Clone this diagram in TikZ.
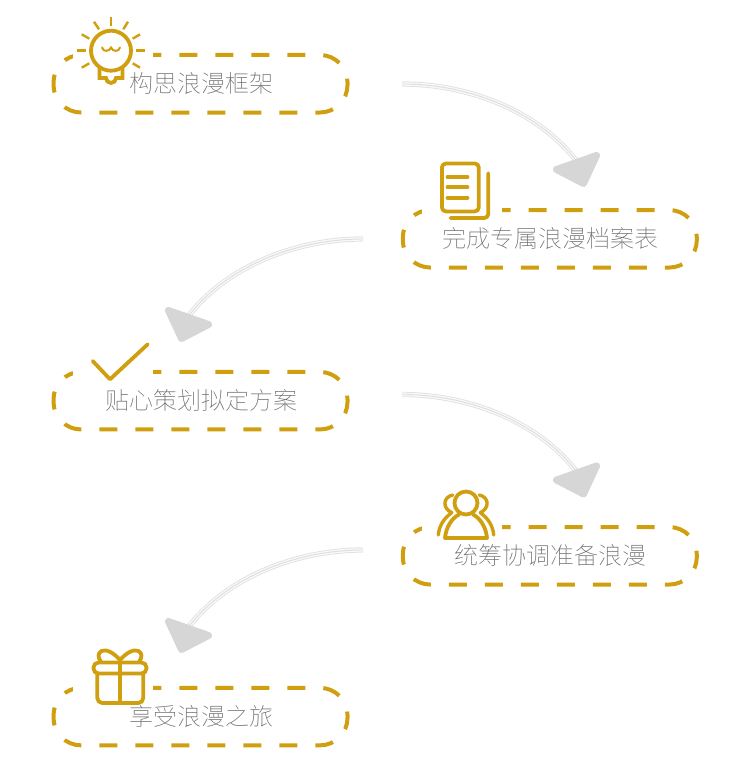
\documentclass[tikz,border=0pt]{standalone}
\usepackage{fontspec}
\newfontfamily\cjk{Noto Sans CJK SC Thin}
\definecolor{gold}{HTML}{D09F0F}
\definecolor{ribbon}{HTML}{DEDEDE}
\definecolor{ribbonin}{HTML}{FAFAFA}
\definecolor{headgrey}{HTML}{D6D6D6}
\definecolor{txt}{HTML}{666666}
\tikzset{
  boxarea/.style={inner sep=0pt,outer sep=0pt,minimum width=294pt,minimum height=57.5pt,text=txt,font=\cjk\fontsize{24}{24}\selectfont},
  dashframe/.style={draw=gold,line width=4pt,dash pattern=on 18pt off 18pt,dash phase=9.7pt},
  iconline/.style={draw=gold,line width=3.8pt,line cap=round,line join=round},
  ray/.style={draw=gold,line width=2.4pt},
  band/.style={draw=ribbon,line width=5.2pt,postaction={draw=ribbonin,line width=3.6pt},postaction={draw=ribbon,line width=1pt}},
  stub/.style={draw=ribbonin!60!ribbon,line width=5.2pt},
  head/.style={fill=headgrey,draw=headgrey,line width=7pt,line join=round},
  mask/.style={fill=white,draw=none}
}
\newcommand{\stepbox}[4]{%
  \node[boxarea] (#1) at (#2,#3) {};
  \draw[dashframe] ([xshift=27.5pt]#1.north west) -- ([xshift=-27.5pt]#1.north east)
    arc[start angle=90,end angle=0,radius=27.5pt]
    -- ([yshift=27.5pt]#1.south east)
    arc[start angle=0,end angle=-90,radius=27.5pt]
    -- ([xshift=27.5pt]#1.south west)
    arc[start angle=270,end angle=180,radius=27.5pt]
    -- ([yshift=-27.5pt]#1.north west)
    arc[start angle=180,end angle=90,radius=27.5pt] -- cycle;
  \fill[mask] ([xshift=19.5pt,yshift=10pt]#1.north west) rectangle ([xshift=99.2pt,yshift=-8pt]#1.north west);
  \node[boxarea,xshift=0.7pt] (#1t) at (#2,#3) {#4};
}
\begin{document}
\begin{tikzpicture}[x=1pt,y=-1pt]
\useasboundingbox (0,0) rectangle (750,760);

\stepbox{b1}{200.5}{83.75}{构思浪漫框架}
\stepbox{b2}{549.8}{238.8}{完成专属浪漫档案表}
\stepbox{b3}{200.5}{400.7}{贴心策划拟定方案}
\stepbox{b4}{549.8}{555.8}{统筹协调准备浪漫}
\stepbox{b5}{200.5}{716.6}{享受浪漫之旅}

% connectors
\coordinate (a1s) at (402,84);  \coordinate (a1e) at (578,163);
\draw[band] (a1s) .. controls (470,84) and (540,112) .. (a1e);
\draw[stub] (a1s) -- ++(4,0);
\fill[head] (556.5,169.5) -- (596.5,155.5) -- (583.5,183.5) -- cycle;

\coordinate (a2s) at (363,239); \coordinate (a2e) at (187,318);
\draw[band] (a2s) .. controls (295,239) and (225,267) .. (a2e);
\draw[stub] (a2s) -- ++(-4,0);
\fill[head] (208.5,324.5) -- (168.5,310.5) -- (181.5,338.5) -- cycle;

\coordinate (a3s) at (402,394.5); \coordinate (a3e) at (578,473.5);
\draw[band] (a3s) .. controls (470,394.5) and (540,422.5) .. (a3e);
\draw[stub] (a3s) -- ++(4,0);
\fill[head] (556.5,480) -- (596.5,466) -- (583.5,494) -- cycle;

\coordinate (a4s) at (363,550); \coordinate (a4e) at (187,629);
\draw[band] (a4s) .. controls (295,550) and (225,578) .. (a4e);
\draw[stub] (a4s) -- ++(-4,0);
\fill[head] (208.5,635.5) -- (168.5,621.5) -- (181.5,649.5) -- cycle;

% bulb
\draw[iconline] (111,50.7) circle[radius=20pt];
\draw[iconline,line cap=butt,line join=miter] (99.5,68) -- (99.5,78) -- (106,78)
  arc[start angle=180,end angle=360,radius=5pt] -- (122.5,78) -- (122.5,68);
\draw[ray] (111,17.3) -- (111,25.7);
\draw[ray] (77.3,50.7) -- (86,50.7);
\draw[ray] (136.3,50.7) -- (145,50.7);
\draw[ray] (94,21.7) -- (99,29.3);
\draw[ray] (128,21.7) -- (123.3,29.3);
\draw[ray] (81.7,34.3) -- (89.3,38.7);
\draw[ray] (140,34.3) -- (132.7,38.7);
\draw[ray] (81.7,67.7) -- (89.3,63.3);
\draw[ray] (140,67.7) -- (132.7,63.3);
\draw[draw=gold,line width=2pt,line cap=round] (102,47.5) .. controls (103,52) and (109.5,52) .. (111,47.5)
  .. controls (112.5,52) and (119,52) .. (120,47.5);

% document
\draw[iconline,rounded corners=4pt] (441.9,163.5) rectangle (478.8,211.4);
\draw[iconline] (447.5,177) -- (467.5,177);
\draw[iconline] (447.5,187.3) -- (467.5,187.3);
\draw[iconline] (447.5,197.7) -- (467.5,197.7);
\draw[iconline,rounded corners=4pt] (488.3,173.3) -- (488.3,218) -- (450.5,218);

% check
\draw[iconline] (92.7,361) -- (110,379.3) -- (147.7,344.3);

% people
\draw[iconline] (466,503) circle[radius=11.5pt];
\draw[iconline] (459,514.5) .. controls (452,518) and (446,527) .. (445,538) -- (487,538)
  .. controls (486,527) and (480,518) .. (473,514.5);
\draw[iconline,line width=3.4pt] (452.7,495) .. controls (443,497) and (442,508) .. (451.7,512.7)
  .. controls (444,518) and (439,526) .. (438.3,535);
\draw[iconline,line width=3.4pt] (479.3,495) .. controls (489,497) and (490,508) .. (480.3,512.7)
  .. controls (488,518) and (493,526) .. (493.7,535);

% gift
\draw[iconline,rounded corners=5pt] (93.5,662.5) rectangle (146.5,673.5);
\draw[iconline,rounded corners=5pt,line cap=butt] (97.3,673.5) -- (97.3,703) -- (143.3,703) -- (143.3,673.5);
\draw[iconline,line cap=butt] (120,661) -- (120,703);
\draw[iconline] (120,660) .. controls (113,652) and (106,649) .. (101.5,651) .. controls (97.5,653) and (98,658) .. (100.7,661);
\draw[iconline] (120,660) .. controls (127,652) and (134,649) .. (138.5,651) .. controls (142.5,653) and (142,658) .. (139.3,661);
\end{tikzpicture}
\end{document}
